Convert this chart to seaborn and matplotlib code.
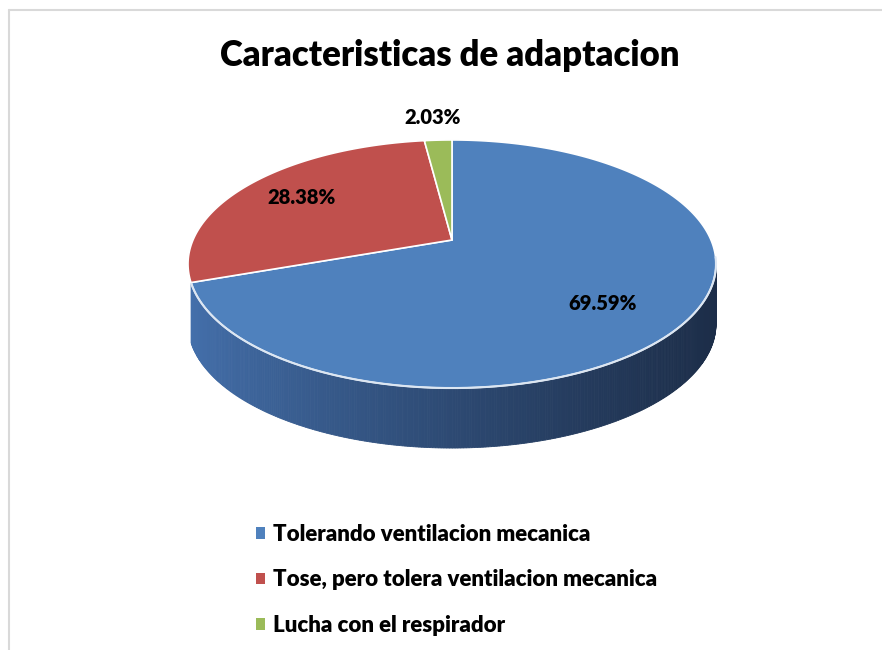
"""3D-style pie chart: Caracteristicas de adaptacion."""

import numpy as np
import matplotlib
matplotlib.use("Agg")
import matplotlib.pyplot as plt
from matplotlib.patches import Polygon, Patch
import seaborn as sns

categories = [
    "Tolerando ventilacion mecanica",
    "Tose, pero tolera ventilacion mecanica",
    "Lucha con el respirador",
]
shares = [69.59, 28.38, 2.03]
pct_labels = ["69.59%", "28.38%", "2.03%"]
title = "Caracteristicas de adaptacion"

sns.set_theme(style="white")
plt.rcParams["font.family"] = ["Lato", "DejaVu Sans"]
plt.rcParams["text.color"] = "black"
palette = sns.color_palette(["#4f81bd", "#c0504d", "#9bbb59"])

# projection of the tilted disc (pixel space)
CX, CY = 452, 240
A, B, K = 259, 119.4, 0.1935
DEPTH = 60


def proj(theta_deg, r=1.0):
    t = np.radians(theta_deg)
    u, v = r * np.cos(t), r * np.sin(t)
    w = 1 + K * v
    return CX + A * u / w, CY - B * v / w


fig = plt.figure(figsize=(8.82, 6.5), dpi=100)
ax = fig.add_axes([0, 0, 1, 1])
ax.set_xlim(0, 882)
ax.set_ylim(650, 0)
ax.axis("off")

# slice angle ranges, clockwise from 12 o'clock
fracs = np.array(shares) / sum(shares)
bounds = 90 - 360 * np.concatenate([[0], np.cumsum(fracs)])
ranges = [(bounds[i], bounds[i + 1]) for i in range(len(fracs))]


def slice_at(theta):
    t = (90 - theta) % 360
    acc = np.cumsum(fracs) * 360
    return int(np.searchsorted(acc, t))


# side wall of the front half, shaded left -> right
side_dark = [
    (np.array([68, 112, 172]) / 255, np.array([28, 45, 72]) / 255),
    (np.array([170, 70, 68]) / 255, np.array([90, 35, 34]) / 255),
    (np.array([140, 170, 80]) / 255, np.array([70, 90, 40]) / 255),
]
steps = np.linspace(199.6, 349, 300)
for t1, t2 in zip(steps[:-1], steps[1:]):
    x1, y1 = proj(t1)
    x2, y2 = proj(t2)
    idx = slice_at((t1 + t2) / 2)
    c_left, c_right = side_dark[idx]
    f = np.clip(((x1 + x2) / 2 - 190) / 530, 0, 1) ** 0.8
    col = c_left * (1 - f) + c_right * f
    ax.add_patch(Polygon([(x1, y1), (x2, y2), (x2, y2 + DEPTH), (x1, y1 + DEPTH)],
                         closed=True, facecolor=col, edgecolor=col, lw=0.6))

# top faces
for (a0, a1), col in zip(ranges, palette):
    angs = np.linspace(a0, a1, 200)
    pts = [(CX, CY)] + [proj(a) for a in angs]
    ax.add_patch(Polygon(pts, closed=True, facecolor=col, edgecolor="white", lw=1.2))

# light rim highlight on the front edge
rim = np.linspace(200, 352, 200)
rx, ry = zip(*[proj(a) for a in rim])
ax.plot(rx, ry, color="#dce6f2", lw=1.5)

# percentage labels
label_pos = [(603, 304), (302, 198), (433, 117)]
for (lx, ly), txt in zip(label_pos, pct_labels):
    ax.text(lx, ly, txt, ha="center", va="center", fontsize=14.5,
            fontweight="heavy", color="black")

ax.text(450, 56, title, ha="center", va="center", fontsize=24.9,
        fontweight="heavy", color="black")

# chart frame (top and left edges visible)
ax.plot([9, 882], [10, 10], color="#d9d9d9", lw=1.5)
ax.plot([9, 9], [10, 650], color="#d9d9d9", lw=1.5)

handles = [Patch(facecolor=c, edgecolor="none") for c in palette]
leg = fig.legend(handles, categories, loc="upper left", bbox_to_anchor=(0.29, 0.194),
                 frameon=False, prop={"weight": "heavy", "size": 16},
                 handlelength=0.42, handleheight=0.42, handletextpad=0.35,
                 labelspacing=1.1, borderpad=0, borderaxespad=0)
for t in leg.get_texts():
    t.set_color("black")

fig.savefig("out.png", dpi=100)
plt.close(fig)
